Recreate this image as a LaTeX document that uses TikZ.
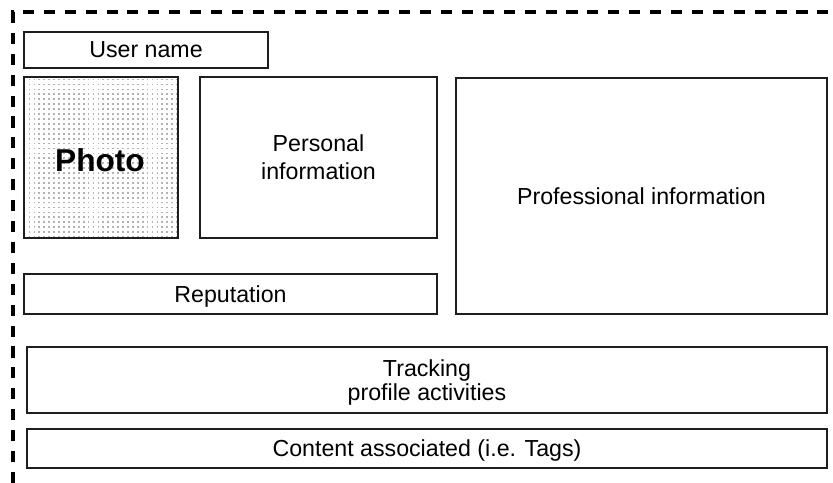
\documentclass[tikz,border=0pt]{standalone}
\usepackage{fontspec}
\setmainfont{Liberation Sans}
\usepackage{xcolor}
\usepackage{tikz}
\usetikzlibrary{patterns.meta}
\definecolor{boxline}{RGB}{30, 30, 30}

\tikzdeclarepattern{
    name=photodots,
    type=uncolored,
    bounding box={(-1.4pt,-1.4pt) and (1.4pt,1.4pt)},
    tile size={(2.8pt,2.8pt)},
    code={\fill (-0.5pt,-0.5pt) rectangle (0.5pt,0.5pt);}
}

\tikzset{
    panel/.style={draw=boxline, line width=0.8pt, inner sep=0pt, align=center,
        text depth=0pt, font=\fontsize{13.2}{14}\selectfont},
}

\begin{document}
\begin{tikzpicture}[x=0.02cm, y=-0.02cm]
    \useasboundingbox (0,0) rectangle (833,483);

    % Profile frame (dashed, open to the right and bottom)
    \draw[line width=1.9pt, dash pattern=on 6.3pt off 5.6pt] (13,483) -- (13,12) -- (833,12);

    % ==== Left column ====
    \node[panel, minimum width=4.88cm, minimum height=0.72cm] (uname) at (146,50) {User name};
    \node[panel, pattern=photodots, pattern color=gray!60, minimum width=3.08cm, minimum height=3.22cm] (photo) at (101,157.5) {};
    \node[font=\fontsize{18}{20}\selectfont\bfseries] (phototxt) at (100,160) {Photo};
    \node[panel, font=\fontsize{13.2}{16}\selectfont, minimum width=4.74cm, minimum height=3.22cm] (personal) at (318.5,157.5) {Personal\\information};
    \node[panel, minimum width=8.26cm, minimum height=0.8cm] (reputation) at (230.5,294) {Reputation};

    % ==== Right column ====
    \node[panel, minimum width=7.42cm, minimum height=4.72cm] (professional) at (641.5,196) {Professional information};

    % ==== Bottom rows ====
    \node[panel, minimum width=16cm, minimum height=1.32cm] (tracking) at (427,380) {Tracking\\profile activities};
    \node[panel, minimum width=16cm, minimum height=0.78cm] (content) at (427,448.5) {Content associated (i.e. Tags)};
\end{tikzpicture}
\end{document}
